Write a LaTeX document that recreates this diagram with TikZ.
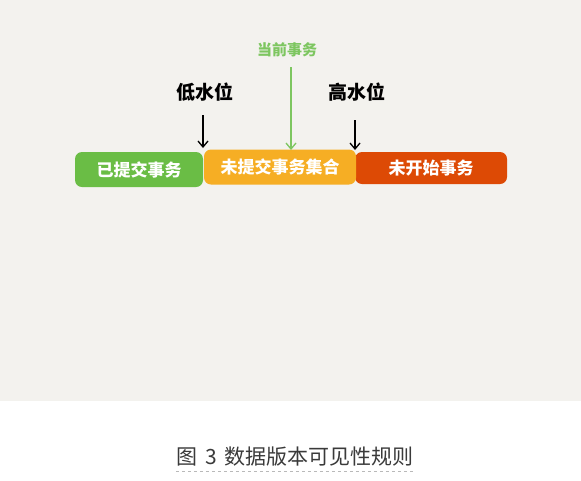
\documentclass[tikz,border=0pt]{standalone}
\usepackage{fontspec}
\newfontfamily\cjk{Noto Sans CJK SC}
\usetikzlibrary{positioning,arrows.meta}
\definecolor{bggray}{HTML}{F3F2EE}
\definecolor{donegreen}{HTML}{6ABD45}
\definecolor{waitorange}{HTML}{F6AE24}
\definecolor{newred}{HTML}{DD4A05}
\definecolor{curgreen}{HTML}{7DC660}
\definecolor{captext}{HTML}{3A3A3A}

\begin{document}
\begin{tikzpicture}[x=1pt,y=-1pt]
		% 定义具体形状
		\tikzstyle{txbox} = [rectangle, rounded corners=7pt, minimum height=35pt, text centered, text=white, font=\cjk\bfseries\fontsize{17}{17}\selectfont, inner sep=0pt]	% 定义事务框
		\tikzstyle{level} = [font=\cjk\bfseries\fontsize{19}{19}\selectfont, text=black, inner sep=0pt]	% 定义水位标签
		\tikzstyle{arrow} = [line width=1.3pt, -{Straight Barb[length=6pt,width=10pt]}]	% 定义箭头
		% 背景与边界
		\fill [bggray] (0,0) rectangle (581,401);
		\useasboundingbox (0,0) rectangle (581,480);
		
		\node (done) [txbox, fill=donegreen, minimum width=128pt] at (139,169.5) {已提交事务};
		\node (new) [txbox, fill=newred, minimum width=152pt, minimum height=32pt] at (431,168) {未开始事务};
		\node (wait) [txbox, fill=waitorange, minimum width=152pt] at (280,167) {未提交事务集合};
		\node (low) [level] at (205,92) {低水位};
		\node (high) [level] at (357,92) {高水位};
		\node (cur) [level, text=curgreen, font=\cjk\bfseries\fontsize{15}{15}\selectfont] at (287,50) {当前事务};
		\node (cap) [text=captext, font=\cjk\fontsize{21}{21}\selectfont, inner sep=0pt] at (295,457) {图\hspace{8pt}3\hspace{8pt}数据版本可见性规则};
		
		% 箭头落点
		\coordinate (lowtip) at (203,148);
		\coordinate (hightip) at (355,150);
		\coordinate (curtip) at (291,150);
		
		% 连接具体形状
		\draw [arrow] (low.south -| lowtip) ++(0,14) -- (lowtip);
		\draw [arrow] (high.south -| hightip) ++(0,19) -- (hightip);
		\draw [arrow, curgreen] (cur.south -| curtip) ++(0,10) -- (curtip);
		\draw [gray!55, dashed, line width=0.8pt] ([yshift=-4pt]cap.south west) -- ([yshift=-4pt]cap.south east);
	\end{tikzpicture}
\end{document}
